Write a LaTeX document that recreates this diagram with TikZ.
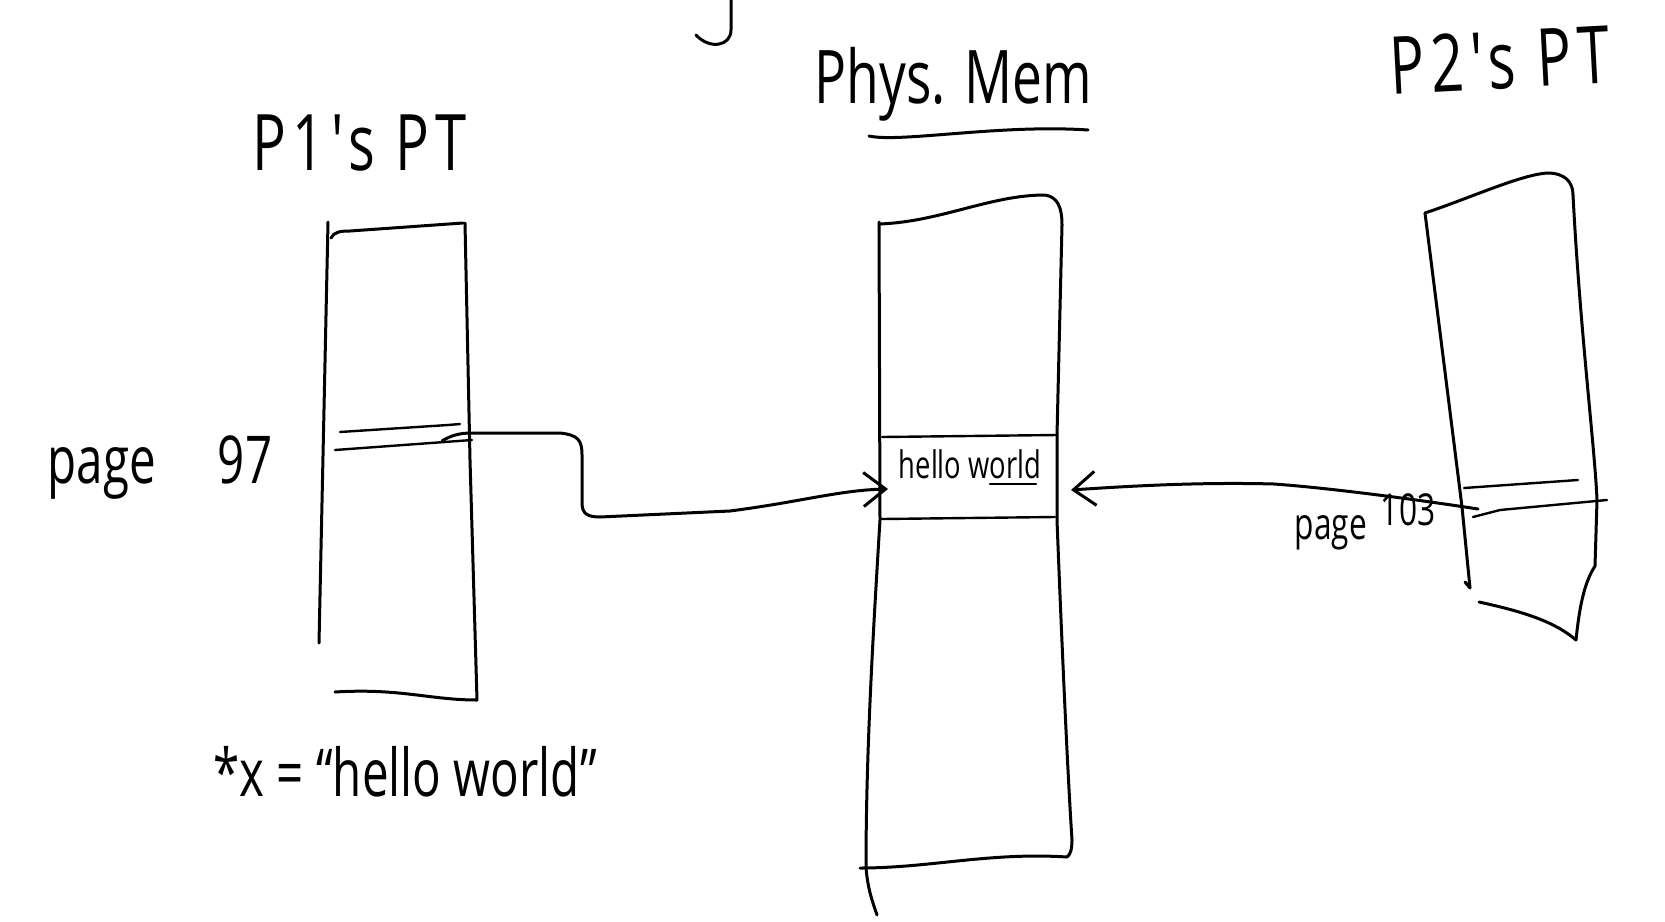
\documentclass[tikz,border=0pt]{standalone}
\usepackage{fontspec}
\newfontfamily\hand[FakeStretch=0.72]{Open Sans}
\newfontfamily\handwide[FakeStretch=0.72,LetterSpace=8]{Open Sans}
\usetikzlibrary{arrows.meta}
\tikzset{
  ink/.style={line width=3pt, line cap=round, line join=round, black},
  thinink/.style={line width=2.4pt, line cap=round, line join=round, black},
  lbl/.style={font=\hand, inner sep=0pt, anchor=center},
  barb/.style={-{Straight Barb[length=22pt,width=34pt,line width=3pt]}},
}
\begin{document}
\begin{tikzpicture}[x=1pt,y=-1pt]
\useasboundingbox (0,0) rectangle (1665,921);

% stray stroke at top
\draw[ink] (731,0) -- (731,30) .. controls (731,46) and (710,50) .. (696,35);

% titles
\node[lbl, font=\handwide\fontsize{78}{78}\selectfont] (t1) at (360,143) {P1's PT};
\node[lbl, font=\hand\fontsize{74}{74}\selectfont] (t2) at (953,84) {Phys. Mem};
\draw[ink] (869,136) .. controls (900,143) and (1000,124) .. (1088,130);
\node[lbl, font=\handwide\fontsize{80}{80}\selectfont, rotate=3] (t3) at (1500,60) {P2's PT};

% P1's page table
\draw[ink] (328,222) -- (319,643);
\draw[ink] (331,238) .. controls (334,232) and (340,231) .. (350,231) -- (463,223);
\draw[ink] (465,223) -- (470,460) -- (477,700);
\draw[ink] (335,692) .. controls (400,688) and (430,700) .. (477,700);
\draw[thinink] (340,432) -- (448,425) -- (460,424);
\draw[thinink] (335,450) -- (472,440);
\coordinate (p97) at (442,441);
\node[lbl, font=\hand\fontsize{66}{66}\selectfont] (l97) at (160,468) {page\hspace{62pt}97};

% physical memory
\draw[ink] (879,222) -- (880,520) .. controls (872,650) and (866,760) .. (866,868) .. controls (868,890) and (872,900) .. (877,915);
\draw[ink] (879,224) .. controls (940,222) and (990,195) .. (1045,195) .. controls (1058,197) and (1062,208) .. (1062,225);
\draw[ink] (1062,225) -- (1057,435) -- (1057,520) .. controls (1062,650) and (1068,780) .. (1072,840) .. controls (1072,850) and (1070,855) .. (1067,857);
\draw[ink] (860,868) .. controls (930,868) and (990,852) .. (1067,857);
\draw[thinink] (882,437) -- (1057,435);
\draw[thinink] (882,519) -- (1055,517);
\node[lbl, font=\hand\fontsize{38}{38}\selectfont] (hw) at (970,464) {hello world};
\draw[thinink] (990,484) -- (1036,484);
\coordinate (hwL) at (888,489);
\coordinate (hwR) at (1071,490);

% P2's page table
\draw[ink] (1425,213) -- (1462,507) -- (1470,588) -- (1465,582);
\draw[ink] (1425,213) .. controls (1470,198) and (1520,175) .. (1547,173) .. controls (1565,173) and (1573,182) .. (1573,195);
\draw[ink] (1573,195) .. controls (1580,330) and (1595,450) .. (1597,500) -- (1595,566) .. controls (1586,580) and (1580,600) .. (1576,640);
\draw[ink] (1479,602) .. controls (1525,612) and (1555,622) .. (1576,640);
\draw[thinink] (1464,488) -- (1578,480);
\draw[thinink] (1473,517) -- (1500,510) -- (1607,500);
\coordinate (p103) at (1478,509);
\node[lbl, font=\hand\fontsize{44}{44}\selectfont] (l103) at (1365,522) {page\hspace{14pt}\raisebox{14pt}{103}};

% connectors
\draw[ink, barb] (p97) .. controls (455,433) and (465,433) .. (475,433) -- (560,433) .. controls (578,435) and (582,440) .. (582,455) -- (582,503) .. controls (582,514) and (588,517) .. (600,517) -- (730,511) .. controls (800,502) and (840,490) .. (hwL);
\draw[ink, barb] (p103) .. controls (1420,500) and (1330,488) .. (1274,484) .. controls (1200,482) and (1130,486) .. (hwR);

% code line
\node[lbl, font=\hand\fontsize{66}{66}\selectfont] (code) at (405,772) {*x = “hello world”};
\end{tikzpicture}
\end{document}
